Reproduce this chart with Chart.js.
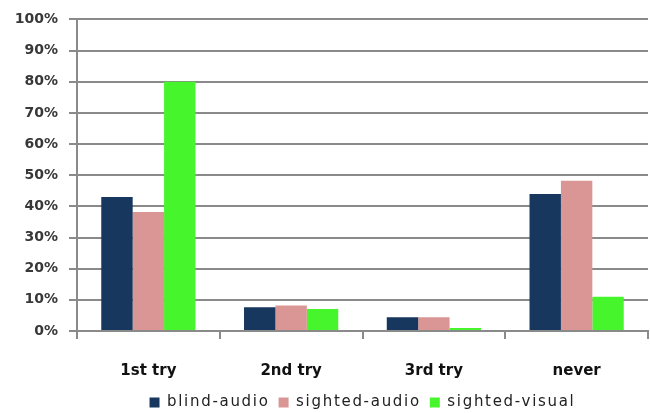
<!DOCTYPE html>
<html>
<head>
<meta charset="utf-8">
<script src="https://cdn.jsdelivr.net/npm/chart.js@4/dist/chart.umd.min.js"></script>
<style>
  html, body { margin: 0; padding: 0; background: #fff; }
  #wrap { width: 650px; height: 413px; }
</style>
</head>
<body>
<div id="wrap"><canvas id="c" width="650" height="413"></canvas></div>
<script>
// Attempts needed before success, share of participants (%)
const categories = ['1st try', '2nd try', '3rd try', 'never'];
const blindAudio = [43.0, 7.6, 4.4, 44.0];
const sightedAudio = [38.2, 8.2, 4.4, 48.2];
const sightedVisual = [80.0, 7.1, 1.0, 11.0];
const seriesNames = ['blind-audio', 'sighted-audio', 'sighted-visual'];
const yTicks = [0, 10, 20, 30, 40, 50, 60, 70, 80, 90, 100];

const gridColor = '#8a8a8a';
const fontFamily = '"DejaVu Sans", "Open Sans", sans-serif';
const LEGEND_HEIGHT = 27;
const X_AXIS_HEIGHT = 55;

// Wider text tracking for the legend and category labels
function withSpacing(obj, key, spacing, chart, after) {
  if (!obj || obj['_sp_' + key]) return;
  const orig = obj[key].bind(obj);
  obj[key] = function (...args) {
    const ctx = chart.ctx;
    const prev = ctx.letterSpacing;
    ctx.letterSpacing = spacing;
    const r = orig(...args);
    ctx.letterSpacing = prev;
    if (after) after(this);
    return r;
  };
  obj['_sp_' + key] = true;
}

const trackingPlugin = {
  id: 'tracking',
  beforeUpdate(chart) {
    withSpacing(chart.legend, 'fit', '1.7px', chart, (lg) => { lg.height = LEGEND_HEIGHT; });
    withSpacing(chart.legend, 'draw', '1.7px', chart);
  },
  afterLayout(chart) {
    withSpacing(chart.scales.x, 'draw', '0.9px', chart);
    // centre the legend under the plot area
    chart.legend.left = chart.chartArea.left;
    chart.legend.right = chart.chartArea.right;
  }
};

new Chart(document.getElementById('c'), {
  type: 'bar',
  data: {
    labels: categories,
    datasets: [
      { label: seriesNames[0], data: blindAudio, backgroundColor: '#17375e' },
      { label: seriesNames[1], data: sightedAudio, backgroundColor: '#d99694' },
      { label: seriesNames[2], data: sightedVisual, backgroundColor: '#47f52d' }
    ]
  },
  plugins: [trackingPlugin],
  options: {
    responsive: false,
    devicePixelRatio: 1,
    animation: false,
    layout: { padding: { top: 6, right: 2, left: 0, bottom: 0 } },
    datasets: { bar: { categoryPercentage: 0.66, barPercentage: 1.0 } },
    plugins: {
      tooltip: { enabled: false },
      legend: {
        position: 'bottom',
        labels: {
          boxWidth: 10,
          boxHeight: 10,
          padding: 9,
          color: '#222',
          font: { family: fontFamily, size: 15 }
        }
      }
    },
    scales: {
      x: {
        afterFit: (scale) => { scale.height = X_AXIS_HEIGHT; },
        grid: {
          offset: true,
          drawOnChartArea: false,
          drawTicks: true,
          tickLength: 8,
          color: gridColor,
          lineWidth: 2
        },
        border: { display: true, color: gridColor, width: 2 },
        ticks: {
          color: '#111',
          padding: 23,
          font: { family: fontFamily, size: 15, weight: 'bold' }
        }
      },
      y: {
        min: 0,
        max: 100,
        afterFit: (scale) => { scale.width = 77; },
        afterBuildTicks: (scale) => { scale.ticks = yTicks.map(v => ({ value: v })); },
        grid: {
          color: gridColor,
          lineWidth: 2,
          tickLength: 8
        },
        border: { display: true, color: gridColor, width: 2 },
        ticks: {
          padding: 11,
          color: '#383838',
          font: { family: fontFamily, size: 14, weight: 'bold' },
          callback: (v) => v + '%'
        }
      }
    }
  }
});
</script>
</body>
</html>
